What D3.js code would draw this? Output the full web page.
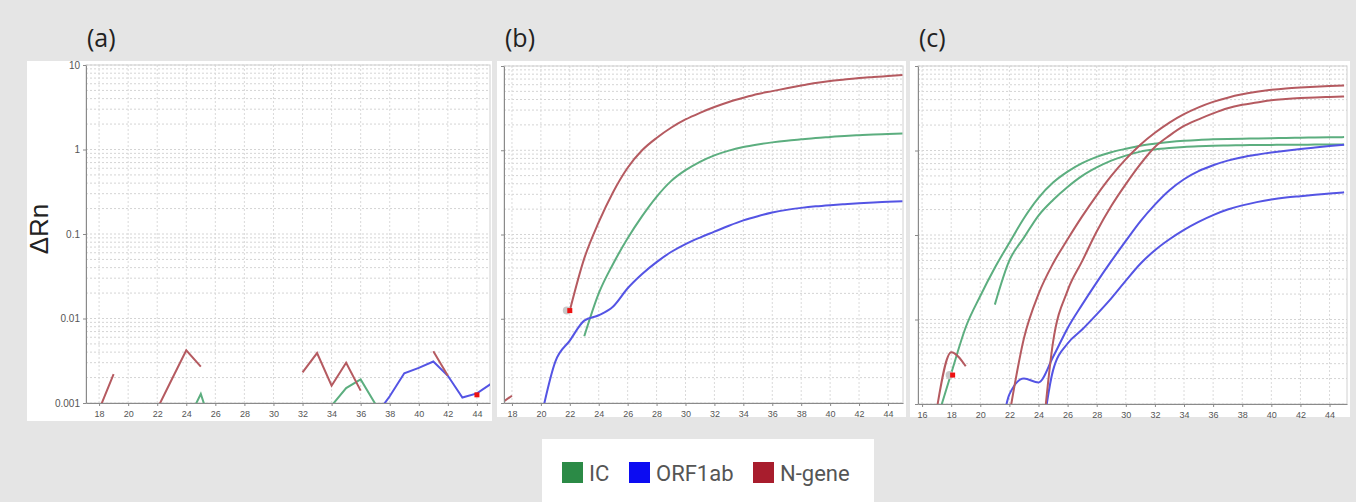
<!DOCTYPE html>
<html>
<head>
<meta charset="utf-8">
<script src="https://cdn.jsdelivr.net/npm/d3@7/dist/d3.min.js"></script>
<style>
    body { margin: 0; background: #e5e5e5; }
    svg { display: block; }
</style>
</head>
<body>
<script>
(function() {

    const width = 1356;
    const height = 502;
    const _ = null; // no reading at that cycle

    // PCR cycles, every series below is aligned to this list
    const cycles = [16, 17, 18, 19, 20, 21, 22, 23, 24, 25, 26, 27, 28, 29, 30,
                    31, 32, 33, 34, 35, 36, 37, 38, 39, 40, 41, 42, 43, 44, 45];

    // (a) negative sample
    const aIC     = [_,_,_,_,_,_,_,_, 0.00057,0.00128,0.00038, _,_,_,_,_,_,_, 0.00093,0.0015,0.0019,0.00098,0.0005, _,_,_,_,_,_,_];
    const aORF1ab = [_,_,_,_,_,_,_,_,_,_,_,_,_,_,_,_,_,_,_,_,_, 0.0007,0.0012,0.00225,0.0026,0.0031,0.0021,0.00116,0.0013,0.0017];
    const aN      = [_,_, 0.00083,0.0022, _,_, 0.00085,0.0019,0.0042,0.0027, _,_,_,_,_,_, 0.0023,0.0039,0.0016,0.0030,0.0014, _,_,_,_, 0.0041,0.0021, _,_,_];

    // (b) single positive sample
    const bIC     = [_,_,_,_,_,_,_, 0.0062,0.02,0.045,0.09,0.165,0.28,0.43,0.58,0.73,0.87,0.99,1.09,1.17,1.24,1.30,1.35,1.40,1.44,1.48,1.51,1.54,1.56,1.58];
    const bORF1ab = [_,_,_,_, 0.00065,0.0031,0.0055,0.0095,0.011,0.014,0.023,0.034,0.047,0.062,0.077,0.092,0.108,0.127,0.147,0.165,0.182,0.196,0.207,0.216,0.223,0.229,0.235,0.24,0.244,0.248];
    const bN      = [_, 0.00093,0.00122, _,_,_, 0.0125,0.052,0.14,0.32,0.62,1.0,1.4,1.85,2.32,2.78,3.26,3.74,4.2,4.66,5.03,5.44,5.86,6.29,6.65,6.92,7.2,7.4,7.6,7.8];

    // (c) duplicate positive samples
    const cIC1    = [_, 0.00063,0.0023,0.0081,0.019,0.041,0.081,0.158,0.275,0.417,0.562,0.708,0.841,0.955,1.047,1.135,1.202,1.259,1.303,1.334,1.355,1.37,1.38,1.39,1.40,1.41,1.42,1.425,1.43,1.44];
    const cIC2    = [_,_,_,_,_, 0.015,0.05,0.093,0.17,0.26,0.37,0.50,0.63,0.76,0.87,0.97,1.03,1.07,1.10,1.12,1.135,1.145,1.155,1.16,1.165,1.17,1.17,1.175,1.175,1.18];
    const cORF1   = [_,_,_,_,_, 0.0001,0.0013,0.002,0.0018,0.0036,0.0079,0.015,0.0275,0.049,0.085,0.145,0.229,0.339,0.457,0.569,0.668,0.759,0.832,0.891,0.944,0.993,1.04,1.084,1.127,1.17];
    const cORF2   = [_,_,_,_,_,_,_,_, 0.0002,0.0025,0.0052,0.0076,0.0115,0.0178,0.0288,0.0457,0.066,0.089,0.115,0.143,0.172,0.20,0.224,0.245,0.263,0.277,0.288,0.299,0.309,0.32];
    const cN1     = [_,_,_,_,_,_, 0.00074,0.006,0.02,0.046,0.089,0.166,0.295,0.50,0.79,1.17,1.62,2.14,2.69,3.24,3.76,4.22,4.62,4.95,5.22,5.43,5.58,5.70,5.79,5.86];
    const cN2     = [_,_,_,_,_,_,_,_, 0.00012,0.0054,0.022,0.049,0.11,0.22,0.40,0.69,1.10,1.5,1.95,2.34,2.75,3.16,3.47,3.7,3.94,4.07,4.17,4.25,4.3,4.36];
    const cN3     = [_, 0.00085,0.0041,0.0028, _,_,_,_,_,_,_,_,_,_,_,_,_,_,_,_,_,_,_,_,_,_,_,_,_,_];

    // threshold markers, one per panel
    const markerCycles = [44, 22, 18.1];
    const markerValues = [0.00125, 0.0125, 0.0022];

    // axis ticks
    const xTicksAB = [18, 20, 22, 24, 26, 28, 30, 32, 34, 36, 38, 40, 42, 44];
    const xTicksC = [16, 18, 20, 22, 24, 26, 28, 30, 32, 34, 36, 38, 40, 42, 44];
    const yTicks = [10, 1, 0.1, 0.01, 0.001];
    const yTickLabels = ["10", "1", "0.1", "0.01", "0.001"];

    const genes = ["IC", "ORF1ab", "N-gene"];
    const lineColor = { "IC": "#5cae7f", "ORF1ab": "#5454e4", "N-gene": "#b55a60" };
    const keyColor = { "IC": "#2b8a46", "ORF1ab": "#0c0cf2", "N-gene": "#a81d2d" };

    const panels = [
        { label: "(a)", left: 86, right: 490, top: 65, bottom: 403, domain: [17.1, 44.9],
          ticks: xTicksAB, yLabels: true, curve: d3.curveLinear,
          series: [["IC", aIC], ["ORF1ab", aORF1ab], ["N-gene", aN]] },
        { label: "(b)", left: 504, right: 903, top: 66, bottom: 403, domain: [17.45, 45.04],
          ticks: xTicksAB, yLabels: false, curve: d3.curveMonotoneX,
          series: [["IC", bIC], ["ORF1ab", bORF1ab], ["N-gene", bN]] },
        { label: "(c)", left: 918, right: 1347, top: 66, bottom: 404, domain: [15.72, 45.2],
          ticks: xTicksC, yLabels: false, curve: d3.curveMonotoneX,
          series: [["IC", cIC1], ["IC", cIC2], ["ORF1ab", cORF1], ["ORF1ab", cORF2],
                   ["N-gene", cN1], ["N-gene", cN2], ["N-gene", cN3]] }
    ];

    const svg = d3.select("body").append("svg")
        .attr("width", width)
        .attr("height", height);

    svg.append("rect").attr("width", width).attr("height", height).attr("fill", "#e5e5e5");

    // white cards behind the three plots
    svg.append("rect").attr("x", 27).attr("y", 61).attr("width", 465).attr("height", 360).attr("fill", "#fff");
    svg.append("rect").attr("x", 497).attr("y", 61).attr("width", 409).attr("height", 356).attr("fill", "#fff");
    svg.append("rect").attr("x", 910).attr("y", 61).attr("width", 440).attr("height", 356).attr("fill", "#fff");

    panels.forEach(function(p, pi) {
        let x = d3.scaleLinear().domain(p.domain).range([p.left, p.right]);
        let y = d3.scaleLog().domain([0.001, 10]).range([p.bottom, p.top]);
        let g = svg.append("g");

        // dotted grid: log minor lines and one vertical per tick
        g.append("g").selectAll("line")
            .data(y.ticks())
            .enter().append("line")
            .attr("x1", p.left).attr("x2", p.right)
            .attr("y1", d => y(d)).attr("y2", d => y(d))
            .attr("stroke", "#d4d4d4")
            .attr("stroke-dasharray", "2,2");

        g.append("g").selectAll("line")
            .data(p.ticks)
            .enter().append("line")
            .attr("x1", d => x(d)).attr("x2", d => x(d))
            .attr("y1", p.top).attr("y2", p.bottom)
            .attr("stroke", "#dadada")
            .attr("stroke-dasharray", "2,2");

        g.append("rect")
            .attr("x", p.left).attr("y", p.top)
            .attr("width", p.right - p.left).attr("height", p.bottom - p.top)
            .attr("fill", "none").attr("stroke", "#d0d0d0");

        // keep curves inside the plot
        let clipId = "clip" + pi;
        svg.append("clipPath").attr("id", clipId)
            .append("rect")
            .attr("x", p.left).attr("y", p.top)
            .attr("width", p.right - p.left).attr("height", p.bottom - p.top);

        let line = d3.line()
            .defined(d => d[1] !== null)
            .x(d => x(d[0]))
            .y(d => y(d[1]))
            .curve(p.curve);

        let traces = g.append("g").attr("clip-path", "url(#" + clipId + ")");
        p.series.forEach(function(s) {
            let pts = cycles.map((c, i) => [c, s[1][i]]);
            traces.append("path")
                .attr("d", line(pts))
                .attr("fill", "none")
                .attr("stroke", lineColor[s[0]])
                .attr("stroke-width", 2);
        });

        // threshold marker
        let mx = x(markerCycles[pi]);
        let my = y(markerValues[pi]);
        if (pi > 0) {
            g.append("circle").attr("cx", mx - 3).attr("cy", my).attr("r", 4).attr("fill", "#c8c8c8");
        }
        g.append("rect")
            .attr("x", mx - 2.5).attr("y", my - 2.5)
            .attr("width", 5).attr("height", 5)
            .attr("fill", "#ee1111");

        // axes
        let xAxis = g.append("g")
            .attr("transform", "translate(0," + p.bottom + ")")
            .call(d3.axisBottom(x).tickValues(p.ticks).tickSize(3).tickSizeOuter(0).tickFormat(d3.format("d")));
        let yAxis = g.append("g")
            .attr("transform", "translate(" + p.left + ",0)")
            .call(d3.axisLeft(y).tickValues(yTicks).tickSize(3).tickSizeOuter(0)
                .tickFormat((d, i) => p.yLabels ? yTickLabels[i] : ""));

        [xAxis, yAxis].forEach(function(ax) {
            ax.select(".domain").attr("stroke", "#8a8a8a");
            ax.selectAll(".tick line").attr("stroke", "#8a8a8a");
            ax.selectAll("text")
                .attr("fill", "#555")
                .style("font-family", "'Liberation Sans', Arial, sans-serif");
        });
        xAxis.selectAll("text").style("font-size", "9px").attr("dy", "0.9em");
        yAxis.selectAll("text").style("font-size", "10px").attr("x", -6);

        // panel letter
        svg.append("text")
            .attr("x", p.left + 1)
            .attr("y", 47)
            .text(p.label)
            .style("font-family", "'Open Sans', sans-serif")
            .style("font-size", "25px")
            .attr("fill", "#222");
    });

    svg.append("text")
        .attr("transform", "translate(48,229) rotate(-90)")
        .attr("text-anchor", "middle")
        .text("ΔRn")
        .style("font-family", "'Liberation Sans', Arial, sans-serif")
        .style("font-size", "26px")
        .attr("fill", "#222");

    // legend box
    svg.append("rect")
        .attr("x", 542).attr("y", 439)
        .attr("width", 332).attr("height", 63)
        .attr("fill", "#fff");

    let keyX = [562, 629, 753];
    let legend = svg.selectAll(".key")
        .data(genes)
        .enter().append("g")
        .attr("class", "key")
        .attr("transform", (d, i) => "translate(" + keyX[i] + ",462)");

    legend.append("rect")
        .attr("width", 21).attr("height", 21)
        .attr("fill", d => keyColor[d]);

    legend.append("text")
        .attr("x", 27).attr("y", 19)
        .text(d => d)
        .style("font-family", "Roboto, sans-serif")
        .style("font-size", "22px")
        .attr("fill", "#555");

})();
</script>
</body>
</html>
